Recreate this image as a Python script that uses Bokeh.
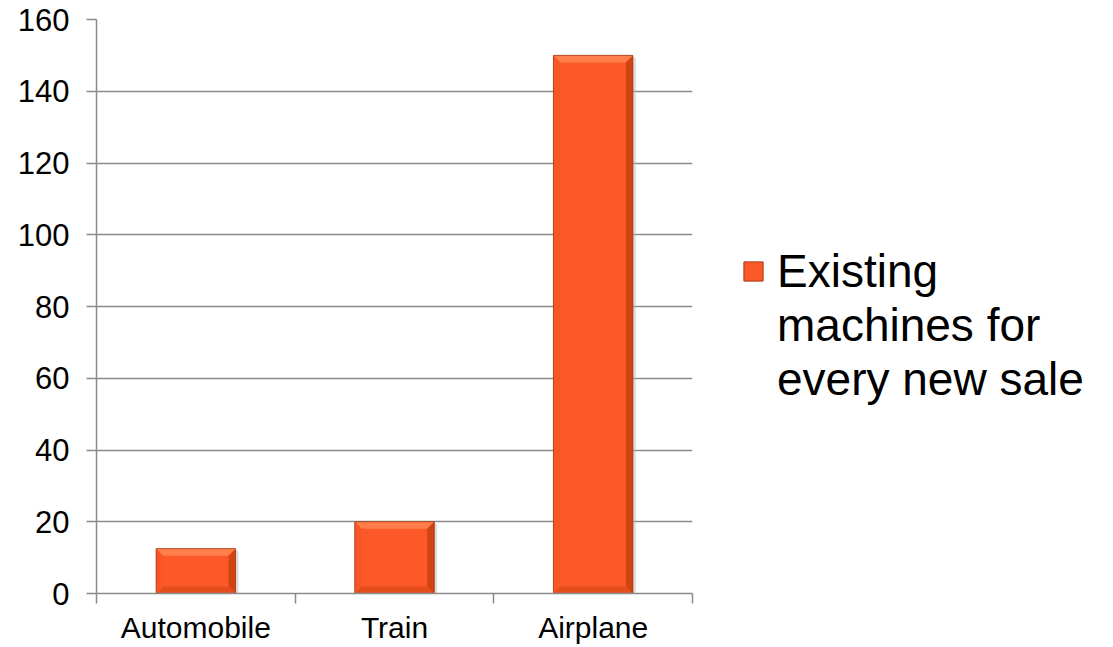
from bokeh.plotting import figure
from bokeh.layouts import row
from bokeh.models import (Range1d, FixedTicker, Legend, LegendItem, ColumnDataSource)
from bokeh.embed import file_html
from bokeh.resources import INLINE

# Data
categories = ["Automobile", "Train", "Airplane"]
machines_per_sale = [12.5, 20, 150]
series_lines = ["Existing", "machines for", "every new sale"]
y_ticks = [0, 20, 40, 60, 80, 100, 120, 140, 160]

FONT = "Liberation Sans"
GRID = "#8a8a8a"
BAR = "#FC5828"
BAR_EDGE = "#A63A12"

LEFT, TOP = 96, 19
FRAME_W, FRAME_H = 596, 574
RIGHT_PAD = 2
TOTAL_W, TOTAL_H = 1113, 647

n = len(categories)
y_max = y_ticks[-1]

p = figure(frame_width=FRAME_W, frame_height=FRAME_H,
           output_backend="svg", toolbar_location=None,
           x_range=Range1d(0, n), y_range=Range1d(0, y_max),
           min_border_left=LEFT, min_border_top=TOP,
           min_border_right=RIGHT_PAD, min_border_bottom=0)
p.outline_line_color = None
p.background_fill_color = "white"
p.border_fill_color = "white"

# bar geometry (bar width as fraction of a category slot)
bar_w = 0.4
centers = [i + 0.5 for i in range(n)]
lefts = [c - bar_w / 2 for c in centers]
rights = [c + bar_w / 2 for c in centers]
bottoms = [0] * n

# pixel -> data unit helpers for the bevel decoration
px_x = n / FRAME_W
px_y = y_max / FRAME_H
bx = 7 * px_x
by = 7 * px_y

bar_data = dict(left=lefts, right=rights, top=machines_per_sale, bottom=bottoms)
src = ColumnDataSource(bar_data)

# soft shadow to the right
p.quad(left=[l + 3 * px_x for l in lefts], right=[r + 3 * px_x for r in rights],
       top=[t - 2 * px_y for t in machines_per_sale], bottom=bottoms,
       fill_color="#bdbdbd", fill_alpha=0.5, line_color=None)

p.quad(left="left", right="right", top="top", bottom="bottom", source=src,
       fill_color=BAR, line_color=None)

top_xs, top_ys, rt_xs, rt_ys, bt_xs, bt_ys, lf_xs, lf_ys = [], [], [], [], [], [], [], []
for l, r, t in zip(lefts, rights, machines_per_sale):
    b = 0
    top_xs.append([l, r, r - bx, l + bx]); top_ys.append([t, t, t - by, t - by])
    rt_xs.append([r, r, r - bx, r - bx]); rt_ys.append([t, b, b + by, t - by])
    bt_xs.append([l, r, r - bx, l + bx]); bt_ys.append([b, b, b + by, b + by])
    lf_xs.append([l, l, l + bx, l + bx]); lf_ys.append([t, b, b + by, t - by])

p.patches(xs=top_xs, ys=top_ys, fill_color="#FF7E4C", line_color=None)
p.patches(xs=lf_xs, ys=lf_ys, fill_color="#F85627", line_color=None)
p.patches(xs=rt_xs, ys=rt_ys, fill_color="#CF4412", line_color=None)
p.patches(xs=bt_xs, ys=bt_ys, fill_color="#E44D1C", line_color=None)
p.quad(left="left", right="right", top="top", bottom="bottom", source=src,
       fill_color=None, line_color=BAR_EDGE, line_width=1, line_alpha=0.8)

# y axis
p.yaxis.ticker = FixedTicker(ticks=y_ticks)
p.yaxis.minor_tick_line_color = None
p.yaxis.major_tick_in = 0
p.yaxis.major_tick_out = 10
p.yaxis.major_tick_line_color = GRID
p.yaxis.major_tick_line_width = 1.5
p.yaxis.axis_line_color = GRID
p.yaxis.axis_line_width = 1.5
p.yaxis.major_label_text_font = FONT
p.yaxis.major_label_text_font_size = "31px"
p.yaxis.major_label_text_color = "black"
p.yaxis.major_label_standoff = 17

# x axis: labels at category centres, tick marks at slot boundaries
p.xaxis.ticker = FixedTicker(ticks=centers, minor_ticks=list(range(n + 1)))
p.xaxis.major_label_overrides = {c: name for c, name in zip(centers, categories)}
p.xaxis.major_tick_line_color = None
p.xaxis.major_tick_in = 0
p.xaxis.major_tick_out = 10
p.xaxis.minor_tick_in = 0
p.xaxis.minor_tick_out = 10
p.xaxis.minor_tick_line_color = GRID
p.xaxis.minor_tick_line_width = 1.5
p.xaxis.axis_line_color = GRID
p.xaxis.axis_line_width = 1.5
p.xaxis.major_label_text_font = FONT
p.xaxis.major_label_text_font_size = "30px"
p.xaxis.major_label_text_color = "black"
p.xaxis.major_label_standoff = 7

p.xgrid.visible = False
p.ygrid.ticker = FixedTicker(ticks=y_ticks)
p.ygrid.grid_line_color = GRID
p.ygrid.grid_line_width = 1.5

# legend panel to the right of the chart
leg_w = TOTAL_W - (LEFT + FRAME_W + RIGHT_PAD)
lp = figure(width=leg_w, height=TOTAL_H, output_backend="svg", toolbar_location=None,
            x_range=Range1d(0, 1), y_range=Range1d(0, 1),
            min_border=0, outline_line_color=None)
lp.axis.visible = False
lp.grid.visible = False
lp.background_fill_color = "white"
lp.border_fill_color = "white"

# legend-only renderers (hidden in the panel itself)
swatch = lp.quad(left="left", right="right", top="top", bottom="bottom",
                 source=ColumnDataSource(bar_data),
                 fill_color=BAR, line_color=BAR_EDGE, line_width=1, visible=False)
blank = lp.quad(left="left", right="right", top="top", bottom="bottom",
                source=ColumnDataSource(bar_data), fill_alpha=0, line_alpha=0,
                visible=False)

items = [LegendItem(label=series_lines[0], renderers=[swatch])]
items += [LegendItem(label=s, renderers=[blank]) for s in series_lines[1:]]
legend = Legend(items=items, location=(47, 188), orientation="vertical")
legend.border_line_color = None
legend.background_fill_alpha = 0
legend.inactive_fill_alpha = 0
legend.padding = 0
legend.margin = 0
legend.spacing = 0
legend.glyph_width = 24
legend.glyph_height = 24
legend.label_standoff = 12
legend.label_text_font = FONT
legend.label_text_font_size = "46px"
legend.label_text_color = "black"
legend.label_height = 53
lp.add_layout(legend, "center")

layout = row(p, lp)
open("out.html", "w").write(file_html(layout, INLINE))
